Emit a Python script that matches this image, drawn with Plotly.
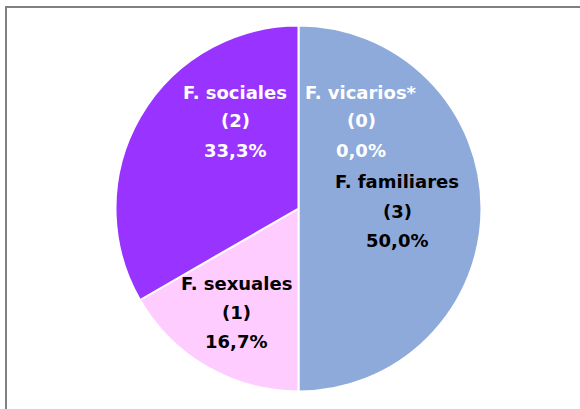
import plotly.graph_objects as go

# Data
names = ["F. vicarios*", "F. familiares", "F. sexuales", "F. sociales"]
counts = [0, 3, 1, 2]
colors = ["#8EAADB", "#8EAADB", "#FFCCFF", "#9933FF"]
label_colors = ["white", "black", "black", "white"]

total = sum(counts)
pcts = [f"{c / total * 100:.1f}".replace(".", ",") + "%" for c in counts]

W, H = 580, 409
cx, cy, r = 298.5, 208.5, 183

fig = go.Figure(go.Pie(
    labels=names,
    values=counts,
    sort=False,
    direction="clockwise",
    rotation=0,
    marker=dict(colors=colors, line=dict(color="white", width=2)),
    textinfo="none",
    hoverinfo="label+value+percent",
    showlegend=False,
    domain=dict(x=[(cx - r) / W, (cx + r) / W],
                y=[(H - cy - r) / H, (H - cy + r) / H]),
))

# label anchor positions (pixel centres of the first line)
label_pos = {
    "F. vicarios*": (361, 92),
    "F. familiares": (397, 182),
    "F. sexuales": (236, 283),
    "F. sociales": (235, 92),
}
spacing = 29
annotations = []
for name, cnt, pct, col in zip(names, counts, pcts, label_colors):
    x0, y0 = label_pos[name]
    for i, line in enumerate([name, f"({cnt})", pct]):
        annotations.append(dict(
            x=x0 / W, y=1 - (y0 + i * spacing) / H, xref="paper", yref="paper",
            text=f"<b>{line}</b>", showarrow=False,
            font=dict(family="DejaVu Sans, sans-serif", size=18, color=col),
            xanchor="center", yanchor="middle",
        ))

fig.update_layout(
    width=W, height=H,
    margin=dict(l=0, r=0, t=0, b=0),
    paper_bgcolor="white",
    plot_bgcolor="white",
    annotations=annotations,
    shapes=[dict(type="rect", xref="paper", yref="paper",
                 x0=6 / W, x1=1.05, y0=-0.05, y1=1 - 7 / H,
                 line=dict(color="#808080", width=2))],
)

fig.write_html("out.html", config={"displayModeBar": False},
               post_script="document.body.style.margin='0';")
